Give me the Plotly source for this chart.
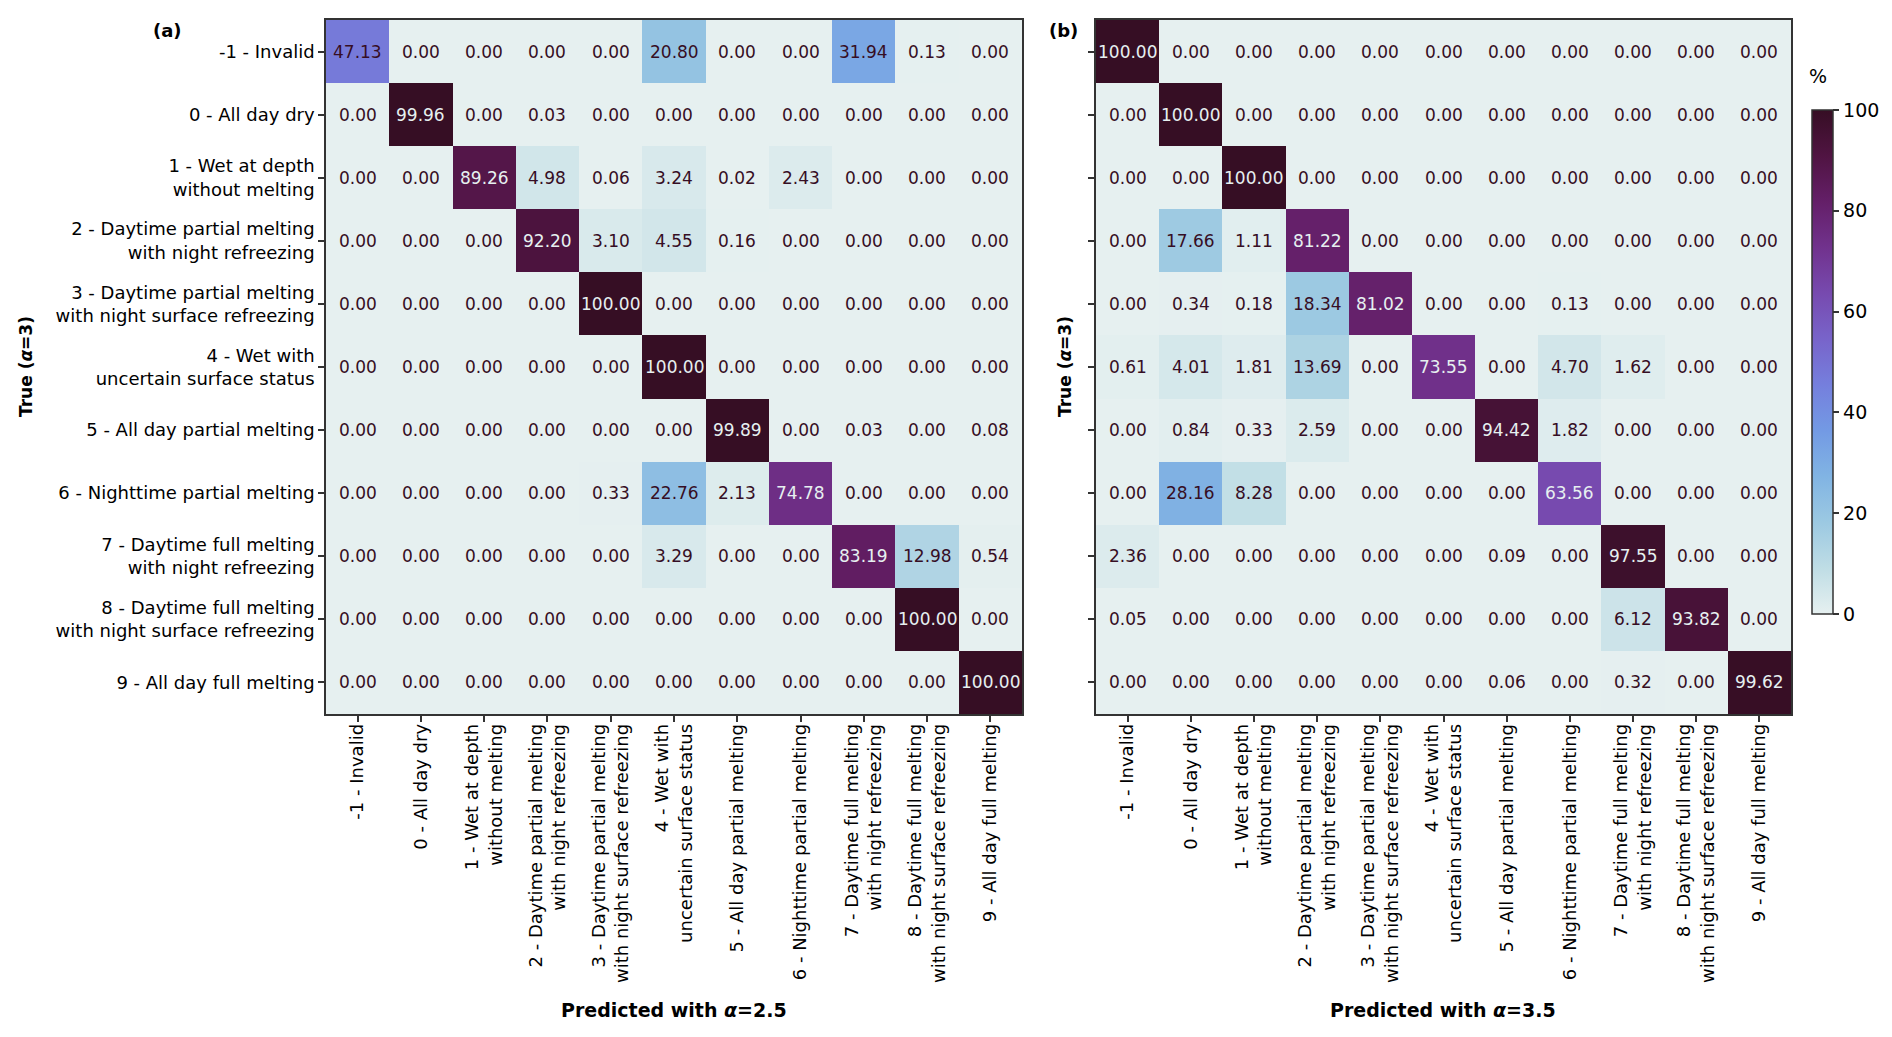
import plotly.graph_objects as go

categories = [
    "-1 - Invalid",
    "0 - All day dry",
    "1 - Wet at depth<br>without melting",
    "2 - Daytime partial melting<br>with night refreezing",
    "3 - Daytime partial melting<br>with night surface refreezing",
    "4 - Wet with<br>uncertain surface status",
    "5 - All day partial melting",
    "6 - Nighttime partial melting",
    "7 - Daytime full melting<br>with night refreezing",
    "8 - Daytime full melting<br>with night surface refreezing",
    "9 - All day full melting",
]

# Panel (a): true alpha=3 (rows) vs predicted alpha=2.5 (columns), %
matrix_a = [
    [47.13, 0.00, 0.00, 0.00, 0.00, 20.80, 0.00, 0.00, 31.94, 0.13, 0.00],
    [0.00, 99.96, 0.00, 0.03, 0.00, 0.00, 0.00, 0.00, 0.00, 0.00, 0.00],
    [0.00, 0.00, 89.26, 4.98, 0.06, 3.24, 0.02, 2.43, 0.00, 0.00, 0.00],
    [0.00, 0.00, 0.00, 92.20, 3.10, 4.55, 0.16, 0.00, 0.00, 0.00, 0.00],
    [0.00, 0.00, 0.00, 0.00, 100.00, 0.00, 0.00, 0.00, 0.00, 0.00, 0.00],
    [0.00, 0.00, 0.00, 0.00, 0.00, 100.00, 0.00, 0.00, 0.00, 0.00, 0.00],
    [0.00, 0.00, 0.00, 0.00, 0.00, 0.00, 99.89, 0.00, 0.03, 0.00, 0.08],
    [0.00, 0.00, 0.00, 0.00, 0.33, 22.76, 2.13, 74.78, 0.00, 0.00, 0.00],
    [0.00, 0.00, 0.00, 0.00, 0.00, 3.29, 0.00, 0.00, 83.19, 12.98, 0.54],
    [0.00, 0.00, 0.00, 0.00, 0.00, 0.00, 0.00, 0.00, 0.00, 100.00, 0.00],
    [0.00, 0.00, 0.00, 0.00, 0.00, 0.00, 0.00, 0.00, 0.00, 0.00, 100.00],
]

# Panel (b): true alpha=3 (rows) vs predicted alpha=3.5 (columns), %
matrix_b = [
    [100.00, 0.00, 0.00, 0.00, 0.00, 0.00, 0.00, 0.00, 0.00, 0.00, 0.00],
    [0.00, 100.00, 0.00, 0.00, 0.00, 0.00, 0.00, 0.00, 0.00, 0.00, 0.00],
    [0.00, 0.00, 100.00, 0.00, 0.00, 0.00, 0.00, 0.00, 0.00, 0.00, 0.00],
    [0.00, 17.66, 1.11, 81.22, 0.00, 0.00, 0.00, 0.00, 0.00, 0.00, 0.00],
    [0.00, 0.34, 0.18, 18.34, 81.02, 0.00, 0.00, 0.13, 0.00, 0.00, 0.00],
    [0.61, 4.01, 1.81, 13.69, 0.00, 73.55, 0.00, 4.70, 1.62, 0.00, 0.00],
    [0.00, 0.84, 0.33, 2.59, 0.00, 0.00, 94.42, 1.82, 0.00, 0.00, 0.00],
    [0.00, 28.16, 8.28, 0.00, 0.00, 0.00, 0.00, 63.56, 0.00, 0.00, 0.00],
    [2.36, 0.00, 0.00, 0.00, 0.00, 0.00, 0.09, 0.00, 97.55, 0.00, 0.00],
    [0.05, 0.00, 0.00, 0.00, 0.00, 0.00, 0.00, 0.00, 6.12, 93.82, 0.00],
    [0.00, 0.00, 0.00, 0.00, 0.00, 0.00, 0.06, 0.00, 0.32, 0.00, 99.62],
]

colorbar_ticks = [0, 20, 40, 60, 80, 100]

# page body has an 8px margin; figure sized so it ends at the window edge
OFF = 8
W, H = 1892 - OFF, 1037 - OFF
FONT = "DejaVu Sans, Verdana, sans-serif"
DARK = "rgb(54,14,36)"
LIGHT = "rgb(230,240,240)"
FRAME = "#333333"


def px(x):
    return (x - OFF) / W


def py(y):
    return 1 - (y - OFF) / H


idx = list(range(len(categories)))

fig = go.Figure()
fig.add_trace(go.Heatmap(
    z=matrix_a, x=idx, y=idx, xaxis="x", yaxis="y",
    colorscale="dense", zmin=0, zmax=100, showscale=False,
    hoverinfo="skip",
))
fig.add_trace(go.Heatmap(
    z=matrix_b, x=idx, y=idx, xaxis="x2", yaxis="y2",
    colorscale="dense", zmin=0, zmax=100, showscale=True,
    hoverinfo="skip",
    colorbar=dict(
        x=px(1812), xanchor="left", y=py(110), yanchor="top",
        len=(614 - 110) / H, lenmode="fraction", thickness=21,
        xpad=0, ypad=0,
        outlinecolor=FRAME, outlinewidth=1.5,
        tickvals=colorbar_ticks, ticks="outside", ticklen=6,
        tickcolor=FRAME, tickwidth=1.5,
        tickfont=dict(family=FONT, size=19, color="black"),
    ),
))

annotations = []
for mat, xr, yr in ((matrix_a, "x", "y"), (matrix_b, "x2", "y2")):
    for i, row in enumerate(mat):
        for j, v in enumerate(row):
            annotations.append(dict(
                x=j, y=i, xref=xr, yref=yr, text=f"{v:.2f}",
                showarrow=False,
                font=dict(family=FONT, size=17, color=LIGHT if v > 50 else DARK),
            ))


def txt(x, y, text, size=19, bold=True, angle=0):
    return dict(x=px(x), y=py(y), xref="paper", yref="paper",
                text=f"<b>{text}</b>" if bold else text, showarrow=False,
                textangle=angle, xanchor="center", yanchor="middle",
                font=dict(family=FONT, size=size, color="black"))


annotations += [
    txt(167, 30, "(a)", size=18),
    txt(1063, 30, "(b)", size=18),
    txt(674, 1010, "Predicted with <i>α</i>=2.5"),
    txt(1443, 1010, "Predicted with <i>α</i>=3.5"),
    txt(26, 367, "True (<i>α</i>=3)", size=17, angle=-90),
    txt(1065, 367, "True (<i>α</i>=3)", size=17, angle=-90),
    txt(1818, 76, "%", size=19, bold=False),
]

axis_common = dict(
    showline=True, linecolor=FRAME, linewidth=1.5, mirror=True,
    ticks="outside", ticklen=6, tickcolor=FRAME, tickwidth=1.5,
    showgrid=False, zeroline=False,
    tickfont=dict(family=FONT, size=18, color="black"),
    tickvals=idx, ticktext=categories,
)

ytop, ybot = py(20), py(714)
fig.update_layout(
    width=W, height=H,
    margin=dict(l=0, r=0, t=0, b=0),
    paper_bgcolor="white", plot_bgcolor="white",
    font=dict(family=FONT),
    xaxis=dict(domain=[px(326), px(1022)], range=[-0.5, 10.5], tickangle=-90,
               anchor="y", ticklabelstandoff=-5, **axis_common),
    yaxis=dict(domain=[ybot, ytop], range=[10.5, -0.5], anchor="x", **axis_common),
    xaxis2=dict(domain=[px(1096), px(1791)], range=[-0.5, 10.5], tickangle=-90,
                anchor="y2", ticklabelstandoff=-5, **axis_common),
    yaxis2=dict(domain=[ybot, ytop], range=[10.5, -0.5], anchor="x2",
                **{**axis_common, "ticktext": [""] * len(categories)}),
    annotations=annotations,
)

fig.write_html("out.html")
